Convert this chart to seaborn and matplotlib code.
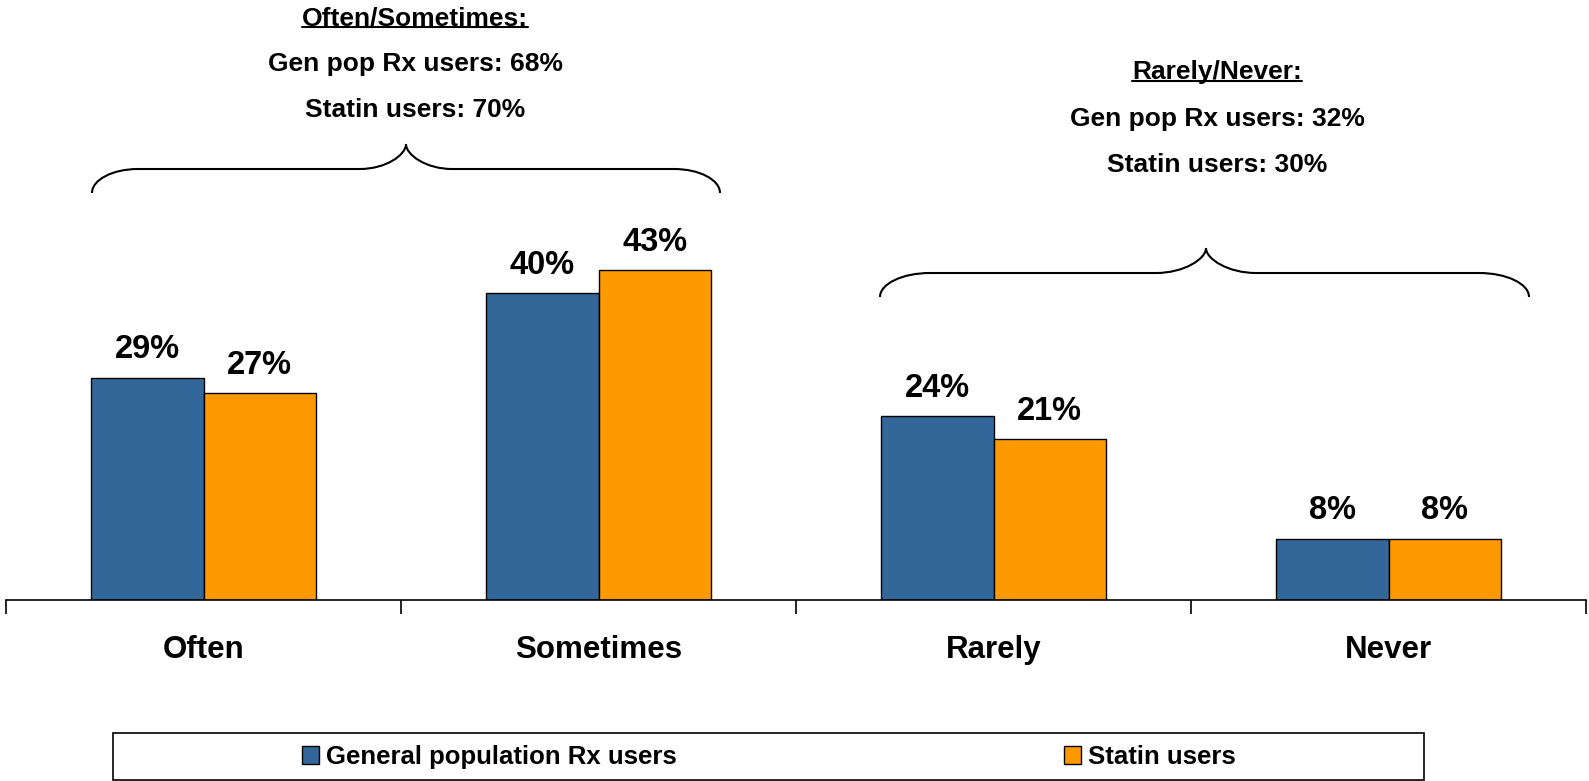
import matplotlib
matplotlib.use("Agg")
import matplotlib.pyplot as plt
import seaborn as sns
import pandas as pd
from matplotlib.path import Path
from matplotlib.patches import PathPatch, Rectangle
from matplotlib.lines import Line2D

categories = ["Often", "Sometimes", "Rarely", "Never"]
series_names = ["General population Rx users", "Statin users"]
gen_pop = [29, 40, 24, 8]
statin = [27, 43, 21, 8]
colors = ["#336699", "#FF9900"]
often_sometimes = ["Often/Sometimes:", "Gen pop Rx users: 68%", "Statin users: 70%"]
rarely_never = ["Rarely/Never:", "Gen pop Rx users: 32%", "Statin users: 30%"]

W, H = 1589, 781
sns.set_theme(style="white")
plt.rcParams['font.family'] = ['Liberation Sans', 'DejaVu Sans']
plt.rcParams['font.weight'] = 'bold'
plt.rcParams['text.color'] = 'black'

df = pd.DataFrame({
    "category": categories * 2,
    "series": [series_names[0]] * len(categories) + [series_names[1]] * len(categories),
    "value": gen_pop + statin,
})

fig = plt.figure(figsize=(W / 100, H / 100), dpi=100)


def fx(px):
    return px / W


def fy(py):
    return 1 - py / H


ax = fig.add_axes([fx(6), fy(600), fx(1586) - fx(6), fy(0) - fy(600)])
sns.barplot(data=df, x="category", y="value", hue="series", order=categories,
            hue_order=series_names, palette=colors, width=0.57, edgecolor="black",
            linewidth=1, saturation=1, errorbar=None, ax=ax, legend=False)

for cont in ax.containers:
    ax.bar_label(cont, labels=[f"{b.get_height():.0f}%" for b in cont], padding=9,
                 fontsize=23.5, fontweight='bold', color='black')

ax.set_xlim(-0.5, len(categories) - 0.5)
ax.set_ylim(0, 78.3)
ax.set_yticks([])
ax.set_xlabel("")
ax.set_ylabel("")
for s in ["top", "left", "right"]:
    ax.spines[s].set_visible(False)
ax.spines["bottom"].set_color("black")
ax.spines["bottom"].set_linewidth(1.2)
ax.set_xticks([i - 0.5 for i in range(len(categories) + 1)])
ax.set_xticklabels([""] * (len(categories) + 1))
ax.set_xticks(range(len(categories)), minor=True)
ax.set_xticklabels(categories, minor=True, fontsize=22.5, fontweight='bold', color='black')
ax.tick_params(axis='x', which='major', bottom=True, length=10, width=1.2,
               direction='out', color='black')
ax.tick_params(axis='x', which='minor', bottom=True, length=0, pad=25)
ax.set_facecolor("white")


def brace(x0, x1, xm, yb, yf, yt, r):
    k = 0.552
    verts = [
        (x0, yb), (x0, yb - k * (yb - yf)), (x0 + r - k * r, yf), (x0 + r, yf),
        (xm - r, yf),
        (xm - r + k * r, yf), (xm, yf - k * (yf - yt)), (xm, yt),
        (xm, yf - k * (yf - yt)), (xm + r - k * r, yf), (xm + r, yf),
        (x1 - r, yf),
        (x1 - r + k * r, yf), (x1, yb - k * (yb - yf)), (x1, yb),
    ]
    codes = [Path.MOVETO, Path.CURVE4, Path.CURVE4, Path.CURVE4,
             Path.LINETO,
             Path.CURVE4, Path.CURVE4, Path.CURVE4,
             Path.CURVE4, Path.CURVE4, Path.CURVE4,
             Path.LINETO,
             Path.CURVE4, Path.CURVE4, Path.CURVE4]
    verts = [(fx(a), fy(b)) for a, b in verts]
    fig.patches.append(PathPatch(Path(verts, codes), transform=fig.transFigure,
                                 fill=False, edgecolor='black', linewidth=1.5))


brace(92, 720, 406, 193, 169, 144, 46)
brace(880, 1529, 1206, 297, 273, 248, 50)

texts = []
for lines, cx, ys in [(often_sometimes, 415, [18, 64, 110]),
                      (rarely_never, 1217, [72, 119, 165])]:
    for i, (s, y) in enumerate(zip(lines, ys)):
        t = fig.text(fx(cx), fy(y), s, ha='center', va='center', fontsize=19,
                     fontweight='bold', color='black')
        if i == 0:
            texts.append(t)

fig.canvas.draw()
renderer = fig.canvas.get_renderer()
for t in texts:
    bb = t.get_window_extent(renderer)
    yline = bb.y0 + 3
    fig.lines.append(Line2D([bb.x0 / W, bb.x1 / W], [yline / H, yline / H],
                            transform=fig.transFigure, color='black', linewidth=1.5))

handles = [Rectangle((0, 0), 1, 1, facecolor=c, edgecolor='black', linewidth=1)
           for c in colors]
fig.legend(handles, series_names, loc='center', bbox_to_anchor=(fx(769), fy(757)),
           ncol=2, frameon=False, prop={'weight': 'bold', 'size': 18.5},
           labelcolor='black', handlelength=0.66, handleheight=0.66,
           handletextpad=0.25, columnspacing=15.1)
fig.patches.append(Rectangle((fx(113), fy(780)), fx(1424) - fx(113), fy(733) - fy(780),
                             transform=fig.transFigure, fill=False, edgecolor='black',
                             linewidth=1.2))

fig.savefig("out.png", dpi=100, facecolor='white')
